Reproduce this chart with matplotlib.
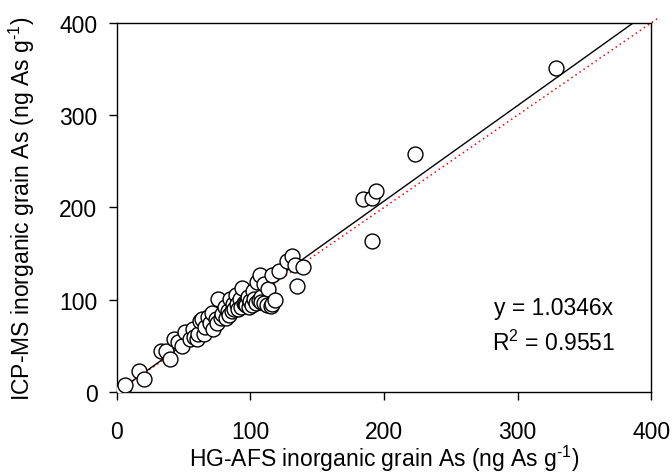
import numpy as np
import matplotlib
matplotlib.use("Agg")
import matplotlib.pyplot as plt

plt.rcParams['font.family'] = ['Liberation Sans', 'DejaVu Sans']
plt.rcParams['mathtext.fontset'] = 'custom'
plt.rcParams['mathtext.rm'] = 'Liberation Sans'
plt.rcParams['mathtext.it'] = 'Liberation Sans'

# HG-AFS (x) vs ICP-MS (y), inorganic grain As, ng As g-1
hg_afs = [4.5, 6, 16.5, 20, 33, 37, 40, 43, 46, 49, 51, 55, 57, 58, 60, 61, 62, 64,
          65, 66, 68, 70, 71, 72, 74, 75, 76, 78, 79, 81, 82, 83, 84, 85, 86, 87,
          88, 89, 90, 91, 92, 93, 94, 95, 96, 97, 98, 99, 100, 101, 102, 103, 104,
          105, 106, 107, 108, 108, 110, 110, 112, 113, 115, 116, 116, 118, 121,
          127, 131, 133, 135, 139, 184, 191, 194, 191, 223, 329]
icp_ms = [3, 8, 23, 14, 44, 45, 36, 58, 54, 50, 65, 57, 68, 60, 58, 63, 77, 79,
          63, 70, 81, 75, 86, 68, 79, 75, 101, 80, 85, 92, 80, 88, 84, 101, 88, 95,
          90, 105, 95, 90, 101, 92, 113, 97, 95, 94, 103, 92, 99, 94, 109, 101, 97,
          119, 100, 127, 103, 98, 117, 96, 94, 112, 93, 127, 95, 100, 131,
          142, 147, 138, 115, 135, 209, 210, 218, 164, 258, 351]

slope = 1.0346
r2 = 0.9551

fig = plt.figure(figsize=(6.72, 4.77), dpi=100)
ax = fig.add_axes([0.174, 0.176, 0.795, 0.774])

# 1:1 line (red dotted) and regression line through origin
one = np.array([0, 405])
ax.plot(one, one, color='red', linestyle=(0, (1, 2.2)), linewidth=1.1, clip_on=False, zorder=1)
fit_x = np.array([0, 400 / slope])
ax.plot(fit_x, slope * fit_x, color='black', linewidth=1.0, zorder=2)

ax.scatter(hg_afs, icp_ms, s=115, facecolors='white', edgecolors='black',
           linewidths=1.0, zorder=3)

fs = 16.5
ax.set_xlim(0, 400)
ax.set_ylim(0, 400)
ax.set_xticks([0, 100, 200, 300, 400])
ax.set_yticks([0, 100, 200, 300, 400])
ax.tick_params(direction='out', length=6, width=1, labelsize=fs,
               top=False, right=False)
ax.tick_params(axis='x', pad=14)
ax.tick_params(axis='y', pad=8)
for sp in ax.spines.values():
    sp.set_linewidth(1.0)

ax.set_xlabel('HG-AFS inorganic grain As (ng As g$^{\\text{-}1}$)', fontsize=fs, labelpad=0)
ax.set_ylabel('ICP-MS inorganic grain As (ng As g$^{\\text{-}1}$)', fontsize=fs, labelpad=16)

ax.text(327, 92, 'y = %.4fx' % slope, fontsize=fs, ha='center', va='center')
ax.text(327, 54, 'R$^{2}$ = %.4f' % r2, fontsize=fs, ha='center', va='center')

fig.savefig('out.png', dpi=100)
